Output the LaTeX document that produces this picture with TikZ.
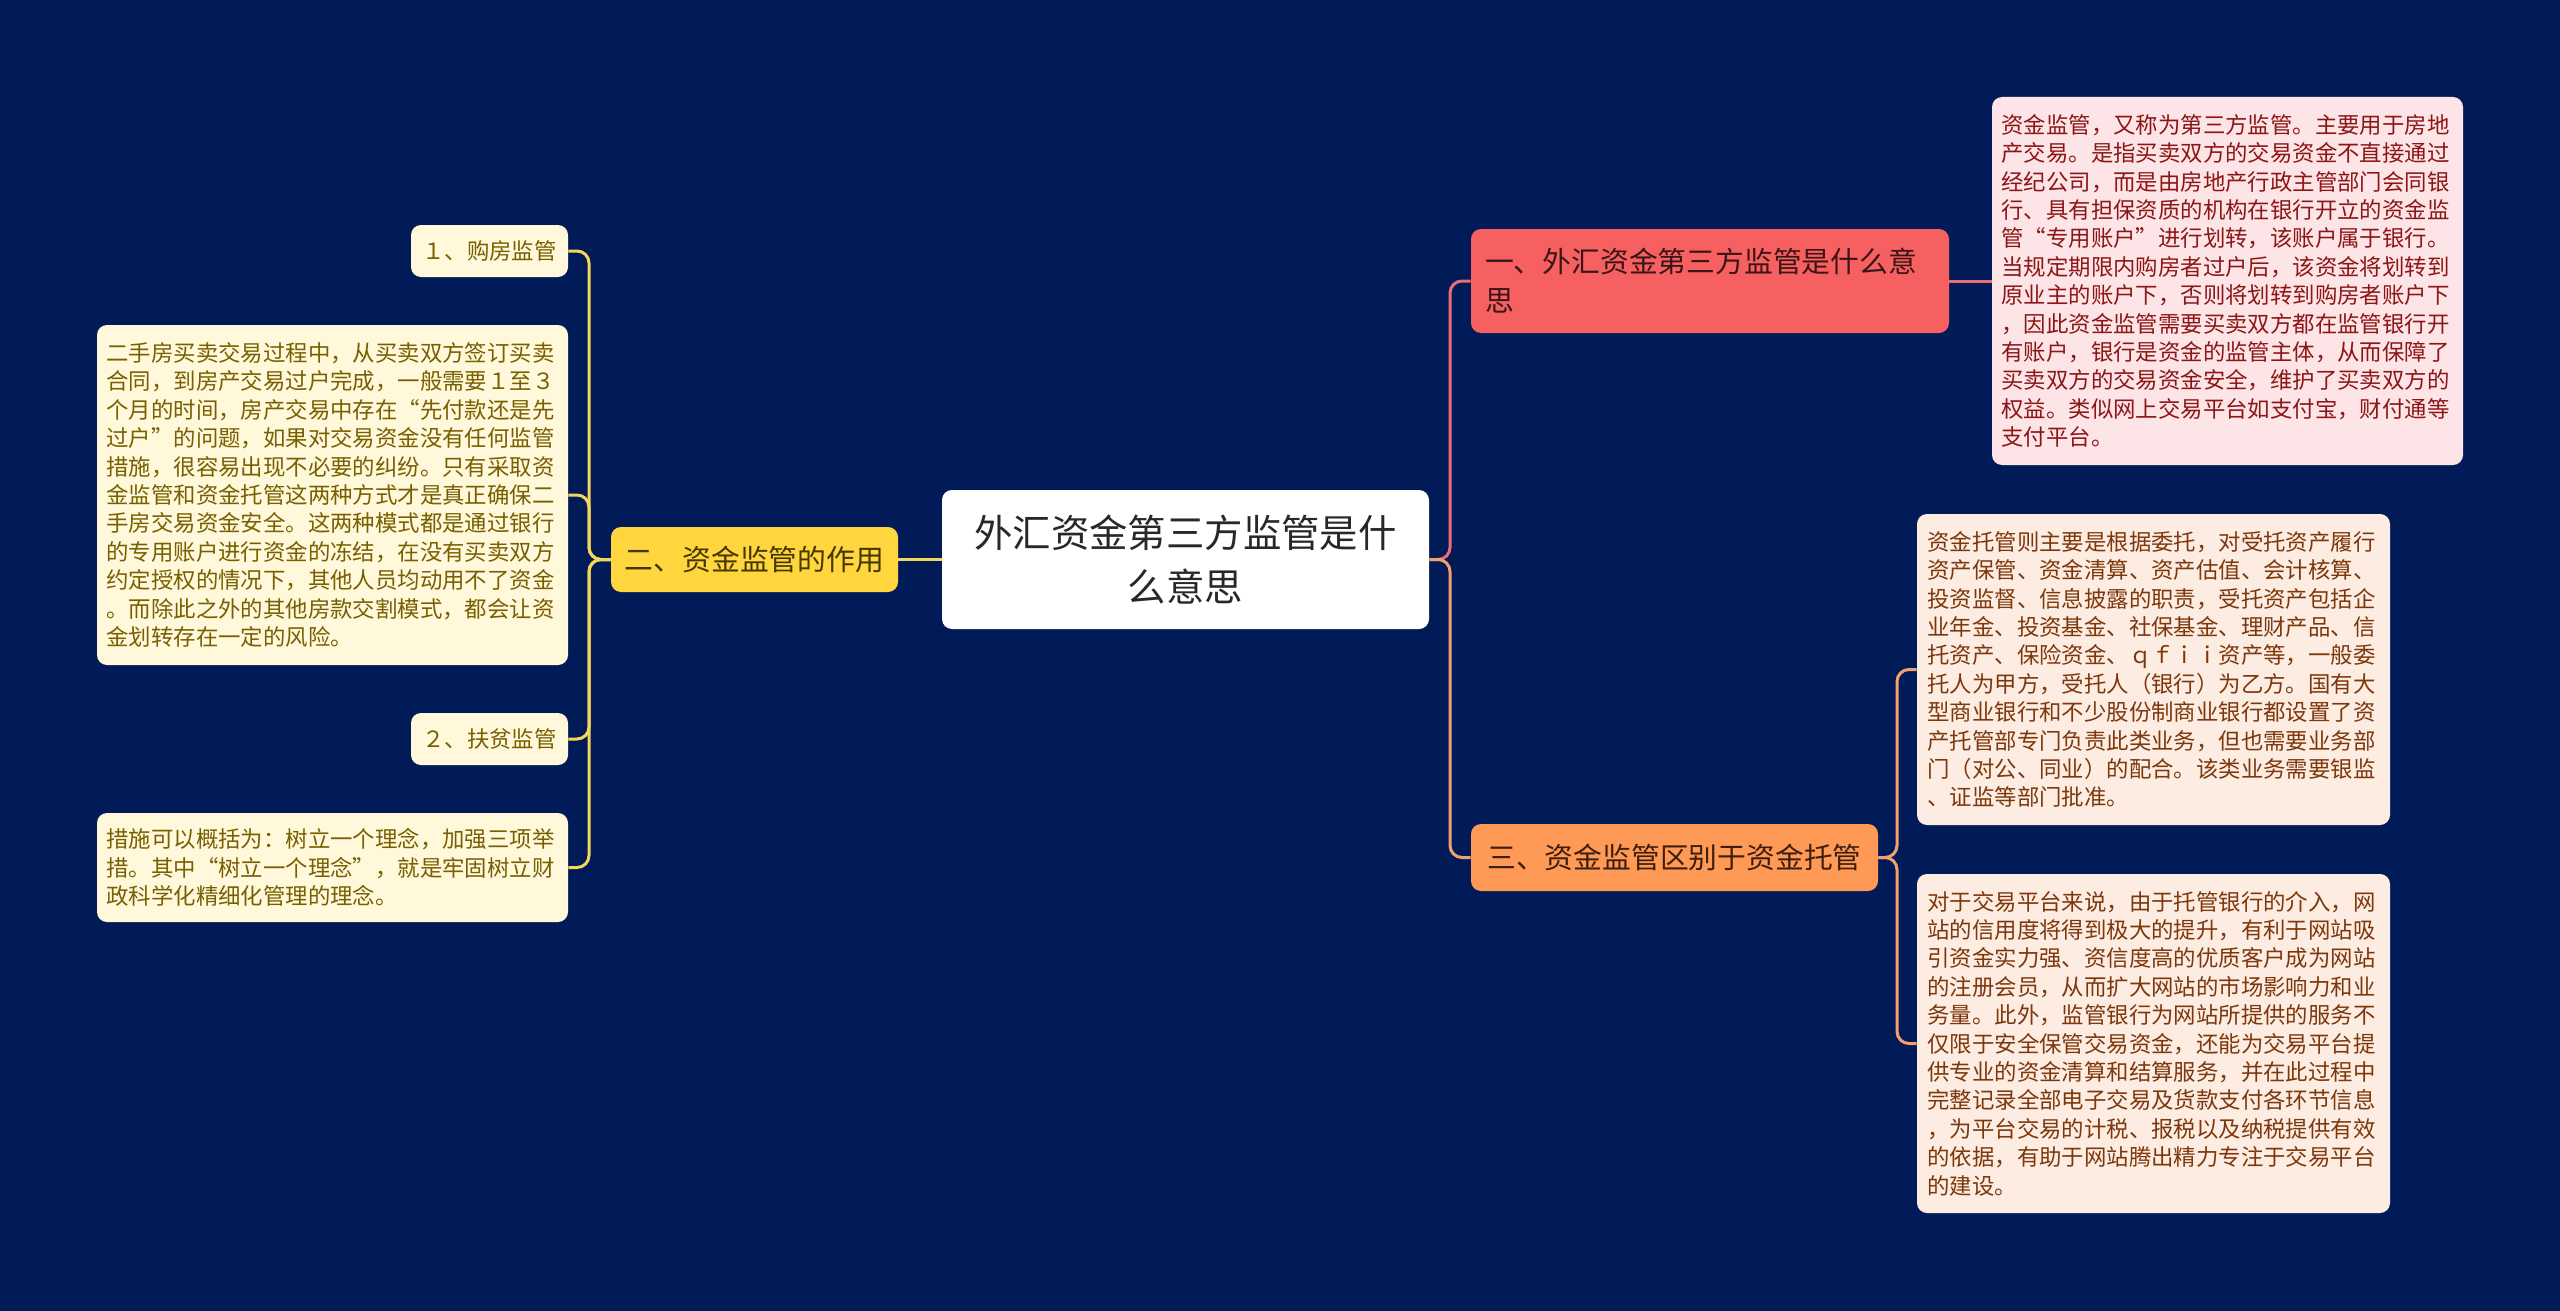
\documentclass[tikz,border=0pt]{standalone}
\usepackage{fontspec}
\setmainfont{Noto Sans CJK SC}
\definecolor{bgc}{RGB}{1,27,88}
\definecolor{cline}{RGB}{236,108,118}
\definecolor{oline}{RGB}{242,160,110}
\definecolor{yline}{RGB}{245,214,90}
\definecolor{redfill}{RGB}{246,96,96}
\definecolor{redtext}{RGB}{58,20,22}
\definecolor{pinkfill}{RGB}{253,228,230}
\definecolor{pinktext}{RGB}{140,22,22}
\definecolor{orfill}{RGB}{255,153,86}
\definecolor{ortext}{RGB}{62,30,12}
\definecolor{olfill}{RGB}{253,236,225}
\definecolor{oltext}{RGB}{125,55,12}
\definecolor{yefill}{RGB}{255,214,62}
\definecolor{yetext}{RGB}{70,55,0}
\definecolor{ylfill}{RGB}{255,248,218}
\definecolor{yltext}{RGB}{120,95,0}
\definecolor{cetext}{RGB}{40,40,40}
\begin{document}
\begin{tikzpicture}[x=0.5pt,y=-0.5pt,
  box/.style={rounded corners=5pt, inner ysep=0pt},
  cen/.style={box, fill=white, text=cetext, align=center, inner xsep=0pt,
    font=\fontsize{19.2pt}{27pt}\selectfont},
  mainnode/.style={box, font=\fontsize{14.4pt}{19.5pt}\selectfont},
  leaf/.style={box, align=left, font=\fontsize{11.2pt}{14.2pt}\selectfont},
  wideleaf/.style={leaf, text width=226pt},
  lnred/.style={draw=cline, line width=1.5pt, rounded corners=6pt},
  lnor/.style={draw=oline, line width=1.5pt, rounded corners=6pt},
  lnyel/.style={draw=yline, line width=1.5pt, rounded corners=6pt}
]
\fill[bgc] (0,0) rectangle (2560,1311);
\useasboundingbox (0,0) rectangle (2560,1311);

% central
\node[cen, minimum width=243.5pt, minimum height=69.5pt] (c) at (1185.5,559.5)
  {外汇资金第三方监管是什\\么意思};

% right main nodes
\node[mainnode, fill=redfill, text=redtext, align=left, text width=225pt,
  inner xsep=7pt, minimum height=52pt] (n1) at (1710,281)
  {一、外汇资金第三方监管是什么意\\思};
\node[mainnode, fill=orfill, text=ortext, align=center, inner xsep=0pt,
  minimum width=203.5pt, minimum height=33.5pt] (n3) at (1674.5,857.5)
  {三、资金监管区别于资金托管};

% left main node
\node[mainnode, fill=yefill, text=yetext, align=center, inner xsep=0pt,
  minimum width=143.5pt, minimum height=32.5pt] (n2) at (754.5,559.5)
  {二、资金监管的作用};

% right leaves
\node[wideleaf, fill=pinkfill, text=pinktext, inner xsep=4.75pt,
  minimum height=184pt] (p1) at (2227.5,281)
  {资金监管，又称为第三方监管。主要用于房地\\
   产交易。是指买卖双方的交易资金不直接通过\\
   经纪公司，而是由房地产行政主管部门会同银\\
   行、具有担保资质的机构在银行开立的资金监\\
   管“专用账户”进行划转，该账户属于银行。\\
   当规定期限内购房者过户后，该资金将划转到\\
   原业主的账户下，否则将划转到购房者账户下\\
   ，因此资金监管需要买卖双方都在监管银行开\\
   有账户，银行是资金的监管主体，从而保障了\\
   买卖双方的交易资金安全，维护了买卖双方的\\
   权益。类似网上交易平台如支付宝，财付通等\\
   支付平台。};

\node[wideleaf, fill=olfill, text=oltext, inner xsep=5.25pt,
  minimum height=155.5pt] (o1) at (2153.5,669.5)
  {资金托管则主要是根据委托，对受托资产履行\\
   资产保管、资金清算、资产估值、会计核算、\\
   投资监督、信息披露的职责，受托资产包括企\\
   业年金、投资基金、社保基金、理财产品、信\\
   托资产、保险资金、ｑｆｉｉ资产等，一般委\\
   托人为甲方，受托人（银行）为乙方。国有大\\
   型商业银行和不少股份制商业银行都设置了资\\
   产托管部专门负责此类业务，但也需要业务部\\
   门（对公、同业）的配合。该类业务需要银监\\
   、证监等部门批准。};

\node[wideleaf, fill=olfill, text=oltext, inner xsep=5.25pt,
  minimum height=169.5pt] (o2) at (2153.5,1043.5)
  {对于交易平台来说，由于托管银行的介入，网\\
   站的信用度将得到极大的提升，有利于网站吸\\
   引资金实力强、资信度高的优质客户成为网站\\
   的注册会员，从而扩大网站的市场影响力和业\\
   务量。此外，监管银行为网站所提供的服务不\\
   仅限于安全保管交易资金，还能为交易平台提\\
   供专业的资金清算和结算服务，并在此过程中\\
   完整记录全部电子交易及货款支付各环节信息\\
   ，为平台交易的计税、报税以及纳税提供有效\\
   的依据，有助于网站腾出精力专注于交易平台\\
   的建设。};

% left leaves
\node[leaf, fill=ylfill, text=yltext, align=center, inner xsep=0pt,
  minimum width=78.5pt, minimum height=26pt] (y1) at (489.5,251)
  {１、购房监管};
\node[wideleaf, fill=ylfill, text=yltext, inner xsep=4.75pt,
  minimum height=170pt] (y2) at (332.5,495)
  {二手房买卖交易过程中，从买卖双方签订买卖\\
   合同，到房产交易过户完成，一般需要１至３\\
   个月的时间，房产交易中存在“先付款还是先\\
   过户”的问题，如果对交易资金没有任何监管\\
   措施，很容易出现不必要的纠纷。只有采取资\\
   金监管和资金托管这两种方式才是真正确保二\\
   手房交易资金安全。这两种模式都是通过银行\\
   的专用账户进行资金的冻结，在没有买卖双方\\
   约定授权的情况下，其他人员均动用不了资金\\
   。而除此之外的其他房款交割模式，都会让资\\
   金划转存在一定的风险。};
\node[leaf, fill=ylfill, text=yltext, align=center, inner xsep=0pt,
  minimum width=78.5pt, minimum height=26pt] (y3) at (489.5,739)
  {２、扶贫监管};
\node[wideleaf, fill=ylfill, text=yltext, inner xsep=4.75pt,
  minimum height=54.5pt] (y4) at (332.5,867.5)
  {措施可以概括为：树立一个理念，加强三项举\\
   措。其中“树立一个理念”，就是牢固树立财\\
   政科学化精细化管理的理念。};

% connectors right
\coordinate (tr) at (1450,559.5);
\draw[lnred] (c.east) -- (tr) |- (n1.west);
\draw[lnor] (c.east) -- (tr) |- (n3.west);
\draw[lnred] (n1.east) -- (p1.west);
\coordinate (tr2) at (1897,857.5);
\draw[lnor] (n3.east) -- (tr2) |- (o1.west);
\draw[lnor] (n3.east) -- (tr2) |- (o2.west);

% connectors left
\draw[lnyel] (c.west) -- (n2.east);
\coordinate (tl) at (589,559.5);
\draw[lnyel] (n2.west) -- (tl) |- (y1.east);
\draw[lnyel] (n2.west) -- (tl) |- (y2.east);
\draw[lnyel] (n2.west) -- (tl) |- (y3.east);
\draw[lnyel] (n2.west) -- (tl) |- (y4.east);
\end{tikzpicture}
\end{document}
